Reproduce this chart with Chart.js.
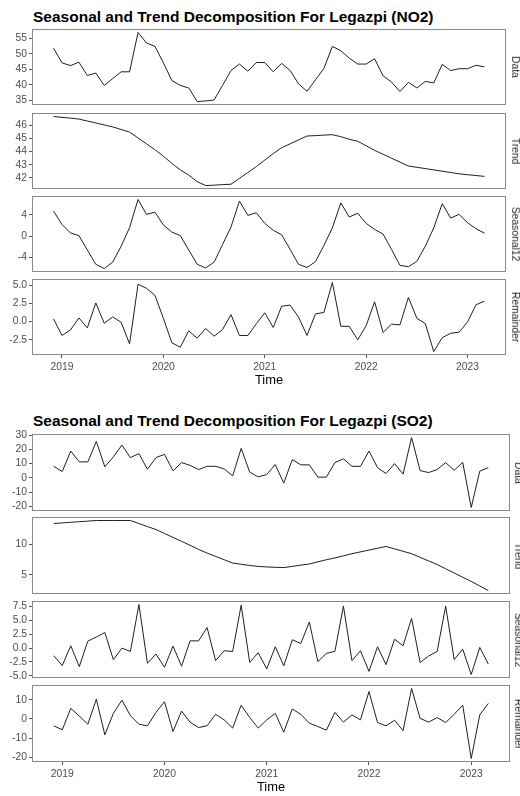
<!DOCTYPE html>
<html><head><meta charset="utf-8">
<script src="https://cdn.jsdelivr.net/npm/chart.js@4.4.1/dist/chart.umd.min.js"></script>
<style>
html,body{margin:0;padding:0;background:#fff;}
body{width:520px;height:796px;position:relative;overflow:hidden;font-family:"Liberation Sans",Arial,sans-serif;}
canvas{position:absolute;left:0;}
.title{position:absolute;left:33px;font-weight:bold;font-size:15.5px;line-height:1;color:#000;white-space:nowrap;}
.axt{position:absolute;font-size:12.9px;line-height:1;color:#000;white-space:nowrap;transform:translateX(-50%);}
.strip{position:absolute;font-size:10.3px;line-height:1;color:#1a1a1a;white-space:nowrap;transform:translate(-50%,-50%) rotate(90deg);}
</style></head><body>
<script>
// ---------------- data ----------------
const months = ["2018-12",
 "2019-01","2019-02","2019-03","2019-04","2019-05","2019-06","2019-07","2019-08","2019-09","2019-10","2019-11","2019-12",
 "2020-01","2020-02","2020-03","2020-04","2020-05","2020-06","2020-07","2020-08","2020-09","2020-10","2020-11","2020-12",
 "2021-01","2021-02","2021-03","2021-04","2021-05","2021-06","2021-07","2021-08","2021-09","2021-10","2021-11","2021-12",
 "2022-01","2022-02","2022-03","2022-04","2022-05","2022-06","2022-07","2022-08","2022-09","2022-10","2022-11","2022-12",
 "2023-01","2023-02","2023-03"];

const no2Data = [51.8,47.1,46.2,47.3,43.0,43.8,39.8,42.0,44.2,44.2,
 56.9,53.5,52.4,47.1,41.4,39.8,39.0,34.6,34.8,35.1,
 39.8,44.6,46.7,44.4,47.2,47.2,44.2,46.9,44.6,40.3,
 37.9,41.6,45.3,52.4,51.0,48.6,46.7,46.7,48.4,42.9,
 40.9,37.8,40.8,39.0,41.1,40.6,46.6,44.6,45.2,45.2,
 46.3,45.8];
const no2Trend = [46.7,46.63,46.57,46.5,46.35,46.2,46.05,45.9,45.7,45.5,
 45.05,44.6,44.15,43.65,43.1,42.6,42.2,41.7,41.4,41.43,
 41.47,41.5,41.95,42.4,42.85,43.35,43.85,44.3,44.6,44.9,
 45.2,45.23,45.27,45.3,45.15,44.95,44.8,44.45,44.1,43.8,
 43.5,43.2,42.9,42.8,42.7,42.6,42.5,42.4,42.3,42.23,
 42.17,42.1];
const no2Seasonal = [4.7,2.2,0.6,0.1,-2.6,-5.3,-6.1,-4.9,-1.9,1.6,6.9,4.1,
 4.5,2.1,0.75,0.1,-2.6,-5.3,-6.0,-4.9,-1.6,1.7,6.6,3.9,
 4.4,2.4,1.1,0.25,-2.5,-5.3,-5.9,-4.8,-1.75,1.55,6.25,3.6,
 4.3,2.4,1.25,0.4,-2.5,-5.5,-5.75,-4.75,-1.9,1.55,6.1,3.4,
 4.1,2.5,1.4,0.55];
const no2Remainder = [0.36,-1.9,-1.15,0.5,-0.86,2.55,-0.23,0.64,-0.1,-3.05,
 5.1,4.55,3.6,0.45,-2.9,-3.5,-1.27,-2.27,-0.95,-2.0,
 -1.1,0.95,-1.9,-1.9,-0.3,1.2,-0.8,2.1,2.25,0.6,
 -1.9,1.05,1.25,5.35,-0.65,-0.65,-2.5,-0.55,2.7,-1.5,
 -0.35,-0.45,3.3,0.45,-0.27,-4.1,-2.2,-1.6,-1.45,-0.05,
 2.3,2.8];

const so2Data = [8.1,4.4,18.8,11.2,11.2,25.5,7.7,14.7,23.0,14.2,
 17.0,6.0,14.2,16.5,4.9,10.7,8.8,5.8,8.1,8.1,
 6.3,1.4,20.7,4.0,0.7,2.3,9.3,-3.7,12.8,9.1,
 9.1,0.5,0.5,10.7,13.3,8.1,8.1,18.8,7.2,3.0,
 10.0,2.6,28.3,5.1,3.7,5.8,10.7,5.3,10.9,-20.8,
 4.7,7.2];
const so2Trend = [13.5,13.6,13.7,13.8,13.9,14.0,14.0,14.0,14.0,14.0,
 13.5,13.0,12.5,11.85,11.2,10.55,9.9,9.2,8.6,8.05,
 7.5,6.95,6.75,6.55,6.4,6.3,6.25,6.2,6.4,6.6,
 6.8,7.15,7.5,7.8,8.15,8.5,8.8,9.1,9.4,9.7,
 9.3,8.9,8.5,7.9,7.3,6.7,6.0,5.3,4.6,3.9,
 3.15,2.4];
const so2Seasonal = [-1.37,-3.15,0.42,-3.33,1.25,2.0,2.8,-2.1,0.0,-0.6,
 7.86,-2.74,-1.07,-3.45,0.36,-3.27,1.3,1.3,3.7,-2.26,
 -0.48,-0.6,7.74,-2.56,-0.83,-3.75,0.24,-3.2,1.5,0.83,
 4.7,-2.44,-0.95,-0.6,7.6,-2.26,-0.48,-4.2,0.24,-2.98,
 1.6,0.42,5.36,-2.6,-1.43,-0.6,7.56,-2.08,-0.18,-4.76,
 0.12,-2.86];
const so2Remainder = [-3.6,-5.7,5.5,1.5,-2.8,10.3,-8.3,2.9,9.8,1.7,
 -2.8,-3.6,3.4,9.0,-6.6,4.1,-1.7,-4.5,-3.6,2.4,
 -0.5,-4.8,7.2,0.7,-4.8,-0.5,2.9,-6.9,5.2,2.4,
 -2.2,-4.0,-5.9,3.4,-1.7,2.1,-0.5,14.3,-1.9,-3.6,
 -0.7,-6.2,15.9,0.3,-1.7,0.7,-1.9,2.4,7.2,-20.7,
 2.1,8.1];

const xTickLabels = ["2019","2020","2021","2022","2023"];
const no2DataTicks = ["35","40","45","50","55"];
const no2TrendTicks = ["42","43","44","45","46"];
const no2SeasTicks = ["-4","0","4"];
const no2RemTicks = ["-2.5","0.0","2.5","5.0"];
const so2DataTicks = ["-20","-10","0","10","20","30"];
const so2TrendTicks = ["5","10"];
const so2SeasTicks = ["-5.0","-2.5","0.0","2.5","5.0","7.5"];
const so2RemTicks = ["-20","-10","0","10"];
const stripNames = ["Data","Trend","Seasonal12","Remainder"];
const titles = ["Seasonal and Trend Decomposition For Legazpi (NO2)","Seasonal and Trend Decomposition For Legazpi (SO2)"];
const axisTitle = "Time";

// ---------------- layout ----------------
const xs = months.map(m => { const [y, mo] = m.split("-").map(Number); return y + (mo - 1) / 12; });
const xSpan = xs[xs.length - 1] - xs[0];
const xMin = xs[0] - 0.05 * xSpan, xMax = xs[xs.length - 1] + 0.05 * xSpan;

const figs = [
  {title: titles[0], titleTop: 9, right: 506, stripX: 515, tops: [29, 113, 196, 279], h: 76, timeTop: 374,
   series: [no2Data, no2Trend, no2Seasonal, no2Remainder], ticks: [no2DataTicks, no2TrendTicks, no2SeasTicks, no2RemTicks]},
  {title: titles[1], titleTop: 413, right: 510, stripX: 517.5, tops: [434, 517, 601, 685], h: 77, timeTop: 781,
   series: [so2Data, so2Trend, so2Seasonal, so2Remainder], ticks: [so2DataTicks, so2TrendTicks, so2SeasTicks, so2RemTicks]}
];

Chart.defaults.font.family = "'Liberation Sans', Arial, sans-serif";
const TICKFONT = {size: 10.3};
const TICKCOL = '#4d4d4d';
const PAD = 10, XAXH = 22, LEFT = 32;

const borderPlugin = {
  id: 'pborder',
  afterDraw(chart) {
    const a = chart.chartArea, c = chart.ctx;
    c.save();
    c.strokeStyle = '#8a8a8a';
    c.lineWidth = 1;
    c.strokeRect(Math.round(a.left) + 0.5, Math.round(a.top) + 0.5, Math.round(a.right - a.left) - 1, Math.round(a.bottom - a.top) - 1);
    c.restore();
  }
};

function addDiv(cls, text, left, top) {
  const d = document.createElement('div');
  d.className = cls; d.textContent = text;
  d.style.left = left + 'px'; d.style.top = top + 'px';
  document.body.appendChild(d);
  return d;
}

figs.forEach(f => {
  addDiv('title', f.title, 33, f.titleTop);
  f.series.forEach((vals, i) => {
    const last = i === 3;
    const cv = document.createElement('canvas');
    const H = PAD + f.h + (last ? XAXH : PAD);
    cv.width = 520; cv.height = H;
    cv.style.width = '520px'; cv.style.height = H + 'px';
    cv.style.top = (f.tops[i] - PAD) + 'px';
    document.body.appendChild(cv);
    const lo = Math.min(...vals), hi = Math.max(...vals), sp = hi - lo;
    const tk = f.ticks[i];
    new Chart(cv, {
      type: 'line',
      data: {datasets: [{
        data: vals.map((v, k) => ({x: xs[k], y: v})),
        borderColor: '#1f1f1f', borderWidth: 1, pointRadius: 0, tension: 0, fill: false
      }]},
      options: {
        responsive: false, animation: false, devicePixelRatio: 1,
        layout: {padding: {left: 0, right: 520 - f.right, top: PAD, bottom: last ? 0 : PAD}},
        plugins: {legend: {display: false}, tooltip: {enabled: false}},
        scales: {
          x: {
            type: 'linear', min: xMin, max: xMax, display: last,
            afterBuildTicks: s => { s.ticks = xTickLabels.map(l => ({value: Number(l)})); },
            afterFit: s => { s.height = last ? XAXH : 0; },
            grid: {drawOnChartArea: false, drawTicks: true, tickLength: 3, color: '#555'},
            border: {display: false},
            ticks: {autoSkip: false, maxRotation: 0, padding: 3, color: TICKCOL, font: TICKFONT,
                    callback: (v, idx) => xTickLabels[idx]}
          },
          y: {
            type: 'linear', min: lo - 0.05 * sp, max: hi + 0.05 * sp,
            afterBuildTicks: s => { s.ticks = tk.map(l => ({value: parseFloat(l)})); },
            afterFit: s => { s.width = LEFT; },
            grid: {drawOnChartArea: false, drawTicks: true, tickLength: 3, color: '#555'},
            border: {display: false},
            ticks: {autoSkip: false, padding: 2, color: TICKCOL, font: TICKFONT,
                    callback: (v, idx) => tk[idx]}
          }
        }
      },
      plugins: [borderPlugin]
    });
    addDiv('strip', stripNames[i], f.stripX, f.tops[i] + f.h / 2);
  });
  addDiv('axt', axisTitle, (LEFT + f.right) / 2, f.timeTop);
});
</script>
</body></html>
